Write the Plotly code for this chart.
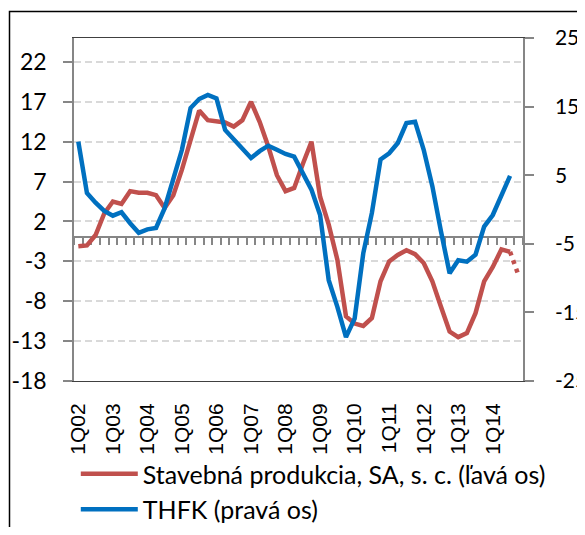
import plotly.graph_objects as go

# Quarters 1Q02 .. 4Q14
quarters = [f"{q}Q{y:02d}" for y in range(2, 15) for q in range(1, 5)]
tick_labels = [f"1Q{y:02d}" for y in range(2, 15)]

# Axis tick values (labels written with a plain hyphen, as in the original)
left_ticks = [-18, -13, -8, -3, 2, 7, 12, 17, 22]
right_ticks = [-25, -15, -5, 5, 15, 25]

# Stavebná produkcia (left axis), 1Q02 .. 3Q14
stavebna = [-1.1, -1.0, 0.3, 3.0, 4.5, 4.2, 5.8, 5.6, 5.6, 5.3,
            3.7, 5.3, 8.5, 12.0, 15.9, 14.7, 14.6, 14.4, 13.9, 14.7,
            17.0, 14.5, 11.4, 7.8, 5.8, 6.2, 9.2, 12.0, 5.1, 1.6,
            -2.8, -9.9, -10.8, -11.1, -10.1, -5.5, -3.0, -2.2, -1.6, -2.1,
            -3.2, -5.5, -8.7, -11.8, -12.5, -12.0, -9.5, -5.5, -3.7, -1.5,
            -1.8]
# dotted last segment 3Q14 -> 4Q14
stavebna_odhad = [-1.8, -4.8]

# THFK (right axis), 1Q02 .. 3Q14
thfk = [9.9, 2.4, 1.0, -0.2, -0.9, -0.4, -2.0, -3.4, -2.9, -2.7,
        0.2, 4.3, 8.7, 14.8, 16.1, 16.7, 16.2, 11.6, 10.2, 9.0,
        7.5, 8.5, 9.3, 8.7, 8.1, 7.7, 5.2, 2.9, -0.8, -10.3,
        -14.2, -18.6, -15.9, -6.4, -0.5, 7.3, 8.2, 9.7, 12.6, 12.8,
        8.7, 3.4, -3.2, -9.3, -7.4, -7.6, -6.6, -2.5, -0.8, 1.9,
        4.9]

RED = "#C0504D"
BLUE = "#0070C0"
GRAY = "#868686"
FONT = "Lato"

LMIN, LMAX = -18, 25
W, H = 585 - 8, 535 - 16   # page body has an 8px margin
PW, PH = 449, 343          # plot area size in px
L, T = 66, 30
R, B = W - L - PW, H - T - PH

fig = go.Figure()
# invisible helper so the zero-crossing category axis (x2) is drawn
fig.add_trace(go.Scatter(x=[0], y=[None], xaxis="x2", yaxis="y", mode="lines",
                         showlegend=False, hoverinfo="skip"))
fig.add_trace(go.Scatter(
    x=quarters[:len(stavebna)], y=stavebna, mode="lines",
    name="Stavebná produkcia, SA, s. c. (ľavá os)",
    line=dict(color=RED, width=4.5), legendgroup="a"))
fig.add_trace(go.Scatter(
    x=quarters[len(stavebna) - 1:len(stavebna) + 1], y=stavebna_odhad, mode="lines",
    showlegend=False, line=dict(color=RED, width=4.5, dash="4px,5px"), legendgroup="a"))
fig.add_trace(go.Scatter(
    x=quarters[:len(thfk)], y=thfk, mode="lines", yaxis="y2",
    name="THFK (pravá os)",
    line=dict(color=BLUE, width=4.5), legendgroup="b"))

fig.update_layout(
    width=W, height=H,
    margin=dict(l=L, r=R, t=T, b=B, autoexpand=False),
    paper_bgcolor="white", plot_bgcolor="white",
    font=dict(family=FONT, size=20, color="black"),
    showlegend=True,
    legend=dict(x=0.004, xanchor="left", y=-70 / PH, yanchor="top",
                font=dict(family=FONT, size=25, color="black"),
                tracegroupgap=0, itemwidth=57, bgcolor="rgba(0,0,0,0)"),
    xaxis=dict(type="category", categoryorder="array", categoryarray=quarters,
               range=[-0.5, len(quarters) - 0.5], automargin=False,
               tickvals=tick_labels, ticktext=tick_labels, tickangle=-90,
               ticks="", showgrid=False, showline=True, linecolor="#404040",
               linewidth=1, mirror=True, ticklabelstandoff=13,
               tickfont=dict(family="Liberation Sans", size=21, color="black")),
    xaxis2=dict(overlaying="x", anchor="free", automargin=False,
                position=(0 - LMIN) / (LMAX - LMIN),
                range=[-0.5, len(quarters) - 0.5], tick0=-0.5, dtick=1,
                ticks="outside", ticklen=7, tickcolor=GRAY, tickwidth=1.5,
                showline=True, linecolor=GRAY, linewidth=1.5,
                showticklabels=False, showgrid=False, zeroline=False,
                layer="below traces"),
    yaxis=dict(range=[LMIN, LMAX], automargin=False,
               tickvals=left_ticks, ticktext=[str(v) for v in left_ticks],
               ticks="outside", ticklen=9, tickcolor=GRAY, tickwidth=1.5,
               showline=True, linecolor=GRAY, linewidth=1.5,
               showgrid=True, gridcolor="#D9D9D9", gridwidth=1.5, griddash="7px,4px",
               zeroline=False, ticklabelstandoff=12,
               tickfont=dict(family=FONT, size=23, color="black")),
    yaxis2=dict(overlaying="y", side="right", range=[-25, 25], automargin=False,
                tickvals=right_ticks, ticktext=[str(v) for v in right_ticks],
                ticks="outside", ticklen=9, tickcolor=GRAY, tickwidth=1.5,
                showline=True, linecolor=GRAY, linewidth=1.5,
                showgrid=False, zeroline=False, ticklabelstandoff=17,
                tickfont=dict(family=FONT, size=21, color="black")),
    shapes=[dict(type="rect", xref="paper", yref="paper",
                 x0=(9 - 73.5) / PW, x1=1.3, y0=-0.8, y1=(381 - 11.5) / PH,
                 line=dict(color="black", width=1.5), layer="below")],
)

fig.write_html("out.html")
